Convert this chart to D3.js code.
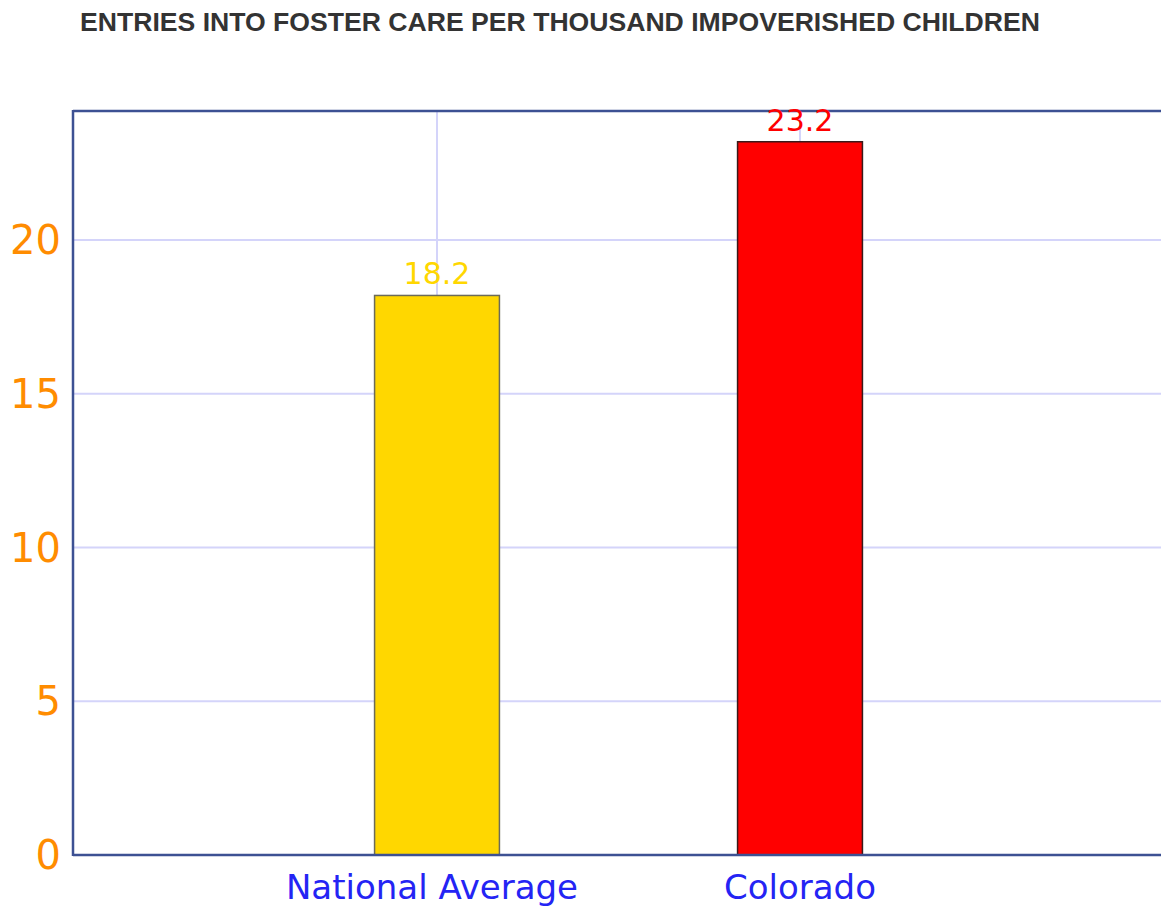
<!DOCTYPE html>
<html>
<head>
<meta charset="utf-8">
<script src="https://cdn.jsdelivr.net/npm/d3@7"></script>
<style>
  body { margin: 0; background: #fff; }
  svg { display: block; }
</style>
</head>
<body>
<script>
// chart data
const categories = ["National Average", "Colorado"];
const values = [18.2, 23.2];
const barColors = ["#ffd700", "#ff0000"];
const barStrokes = ["#6b6b5a", "#3a1a1a"];
const yTicks = [0, 5, 10, 15, 20];
const title = "ENTRIES INTO FOSTER CARE PER THOUSAND IMPOVERISHED CHILDREN";

const W = 1161, H = 907;
const svg = d3.select("body").append("svg")
  .attr("width", W)
  .attr("height", H);

// plot area runs off the right edge, like in the source screenshot
const plotLeft = 73, plotRight = 1163, plotTop = 111, plotBottom = 855;

// categories sit at 0 and 1, axis spans -1..2
const x = d3.scaleLinear().domain([-1, 2]).range([plotLeft + 1, plotRight]);
const y = d3.scaleLinear().domain([0, 24.2]).range([plotBottom, plotTop]);
const barW = x(0.344) - x(0);

svg.append("text")
  .attr("x", 80)
  .attr("y", 31)
  .attr("fill", "#333")
  .attr("font-family", "Liberation Sans, Arial, sans-serif")
  .attr("font-weight", "bold")
  .attr("font-size", "26.6px")
  .text(title);

// grid
svg.append("g")
  .selectAll("line")
  .data(yTicks.filter(d => d > 0))
  .enter().append("line")
  .attr("x1", plotLeft).attr("x2", plotRight)
  .attr("y1", d => y(d)).attr("y2", d => y(d))
  .attr("stroke", "#d4d4fa")
  .attr("stroke-width", 2);

svg.append("g")
  .selectAll("line")
  .data(categories)
  .enter().append("line")
  .attr("x1", (d, i) => x(i)).attr("x2", (d, i) => x(i))
  .attr("y1", plotTop).attr("y2", plotBottom)
  .attr("stroke", "#d4d4fa")
  .attr("stroke-width", 2);

// bars
svg.append("g")
  .selectAll("rect")
  .data(values)
  .enter().append("rect")
  .attr("x", (d, i) => x(i) - barW / 2)
  .attr("y", d => y(d))
  .attr("width", barW)
  .attr("height", d => plotBottom - y(d))
  .attr("fill", (d, i) => barColors[i])
  .attr("stroke", (d, i) => barStrokes[i])
  .attr("stroke-width", 1.5);

// frame: top, left, bottom
const frame = svg.append("g")
  .attr("stroke", "#3d5193")
  .attr("stroke-width", 2.5)
  .attr("fill", "none");
frame.append("line").attr("x1", plotLeft).attr("x2", W).attr("y1", plotTop).attr("y2", plotTop);
frame.append("line").attr("x1", plotLeft).attr("x2", plotLeft).attr("y1", plotTop - 1).attr("y2", plotBottom + 1);
frame.append("line").attr("x1", plotLeft).attr("x2", W).attr("y1", plotBottom).attr("y2", plotBottom);

// value labels
svg.append("g")
  .selectAll("text")
  .data(values)
  .enter().append("text")
  .attr("x", (d, i) => x(i))
  .attr("y", d => y(d) - 11)
  .attr("text-anchor", "middle")
  .attr("font-family", "DejaVu Sans, Verdana, sans-serif")
  .attr("font-size", "30px")
  .attr("fill", (d, i) => barColors[i])
  .text(d => d.toFixed(1));

// y tick labels
svg.append("g")
  .selectAll("text")
  .data(yTicks)
  .enter().append("text")
  .attr("x", 61)
  .attr("y", d => y(d) + 14)
  .attr("text-anchor", "end")
  .attr("font-family", "DejaVu Sans, Verdana, sans-serif")
  .attr("font-size", "40px")
  .attr("fill", "#ff8c00")
  .text(d => d);

// x tick labels
svg.append("g")
  .selectAll("text")
  .data(categories)
  .enter().append("text")
  .attr("x", (d, i) => x(i) - (i === 0 ? 5 : 0))
  .attr("y", 899)
  .attr("text-anchor", "middle")
  .attr("font-family", "DejaVu Sans, Verdana, sans-serif")
  .attr("font-size", "34px")
  .attr("fill", "#2424f4")
  .text(d => d);
</script>
</body>
</html>
